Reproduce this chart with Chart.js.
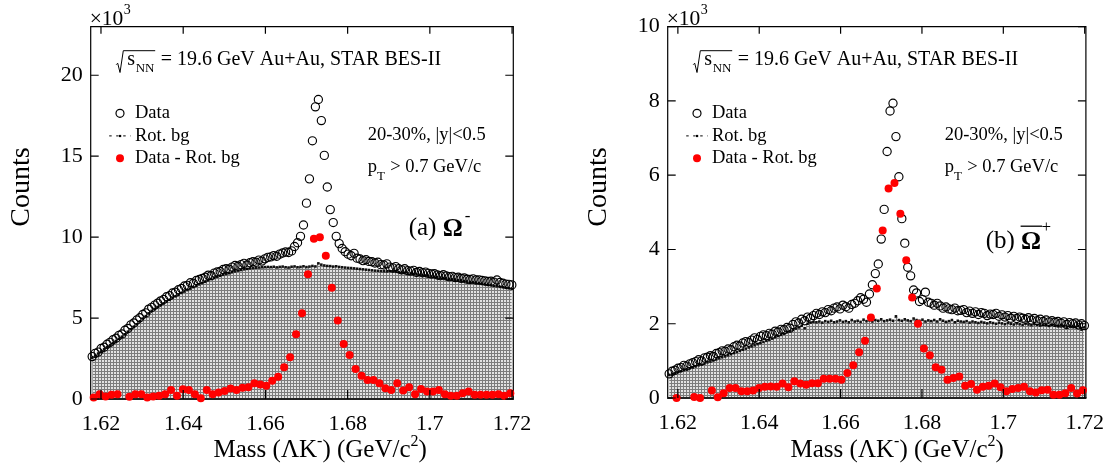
<!DOCTYPE html>
<html><head><meta charset="utf-8">
<script src="https://cdn.jsdelivr.net/npm/chart.js@4.4.1/dist/chart.umd.min.js"></script>
<style>
html,body{margin:0;padding:0;background:#fff;}
#wrap{position:relative;width:1116px;height:470px;overflow:hidden;}
canvas{position:absolute;top:0;}
</style></head><body>
<div id="wrap">
<canvas id="ca" width="558" height="470" style="left:0"></canvas>
<canvas id="cb" width="558" height="470" style="left:558px"></canvas>
</div>
<script>
// ---- axis ranges and ticks ----
const massMin = 1.6175, massMax = 1.7203;
const fineBinCount = 142, coarseBinCount = 71;
const xTickValues = [1.62, 1.64, 1.66, 1.68, 1.70, 1.72];
const xTickLabels = ['1.62', '1.64', '1.66', '1.68', '1.7', '1.72'];
const yTicksA = [0, 5, 10, 15, 20];
const yMaxA = 23;
const yTicksB = [0, 2, 4, 6, 8, 10];
const yMaxB = 10;

// ---- panel (a) Omega- : counts x10^3 ----
const dataA = [
2.62,2.82,2.90,3.12,3.20,3.38,3.50,3.66,3.75,3.93,
4.02,4.25,4.36,4.58,4.70,4.88,5.02,5.22,5.32,5.55,
5.66,5.80,5.92,6.06,6.15,6.32,6.38,6.55,6.60,6.75,
6.83,6.98,7.02,7.18,7.15,7.32,7.38,7.45,7.52,7.65,
7.62,7.78,7.85,7.88,8.00,8.05,8.02,8.15,8.25,8.20,
8.30,8.38,8.28,8.42,8.48,8.45,8.58,8.52,8.66,8.75,
8.78,8.86,8.82,8.95,9.02,9.08,9.05,9.15,9.42,9.65,
10.05,10.75,12.10,13.60,15.95,18.05,18.50,17.20,15.05,13.10,
11.70,10.90,10.05,9.60,9.30,9.10,8.95,8.85,9.00,8.70,
8.65,8.55,8.60,8.50,8.48,8.40,8.45,8.30,8.28,8.35,
8.15,8.10,8.18,8.05,7.98,8.05,7.92,7.90,7.95,7.82,
7.88,7.80,7.84,7.76,7.72,7.74,7.66,7.62,7.68,7.60,
7.55,7.58,7.50,7.52,7.45,7.48,7.40,7.38,7.42,7.35,
7.36,7.32,7.30,7.26,7.28,7.22,7.35,7.20,7.15,7.10,
7.08,7.05];
const rotBgA = [
2.55,2.68,2.81,2.94,3.07,3.20,3.33,3.46,3.59,3.72,
3.85,4.00,4.16,4.31,4.47,4.62,4.80,4.97,5.12,5.29,
5.45,5.57,5.69,5.80,5.91,6.02,6.13,6.24,6.34,6.44,
6.55,6.64,6.73,6.82,6.91,7.00,7.08,7.16,7.24,7.33,
7.42,7.48,7.55,7.61,7.67,7.72,7.77,7.83,7.88,7.93,
7.97,8.01,8.04,8.07,8.09,8.11,8.12,8.14,8.15,8.16,
8.15,8.17,8.13,8.16,8.18,8.14,8.12,8.17,8.19,8.14,
8.16,8.20,8.15,8.18,8.22,8.19,8.38,8.30,8.25,8.22,
8.21,8.18,8.20,8.16,8.14,8.12,8.10,8.09,8.07,8.05,
8.03,8.01,7.99,7.97,7.95,7.93,7.92,7.90,7.89,7.88,
7.90,7.88,7.86,7.84,7.82,7.80,7.77,7.75,7.72,7.70,
7.67,7.65,7.63,7.60,7.57,7.55,7.52,7.50,7.47,7.44,
7.41,7.39,7.36,7.33,7.31,7.28,7.25,7.22,7.20,7.17,
7.14,7.11,7.08,7.05,7.02,6.99,6.96,6.93,6.90,6.87,
6.84,6.80];
const subA = [
0.10,0.30,0.16,0.27,0.30,null,0.14,0.30,0.30,0.10,
0.16,0.20,0.30,0.55,0.20,0.60,0.55,0.30,0.04,0.55,
0.30,0.40,0.50,0.65,0.55,0.70,0.72,0.97,0.90,0.82,
1.13,1.38,1.96,2.58,4.00,5.30,7.70,9.90,10.00,8.85,
6.87,4.85,3.40,2.72,1.86,1.44,1.18,1.18,0.97,0.66,
0.56,0.97,0.52,0.72,0.30,0.62,0.47,0.47,0.55,0.30,
0.20,0.20,0.35,0.47,0.27,0.27,0.27,0.27,0.30,0.20,
0.35];

// ---- panel (b) anti-Omega+ : counts x10^3 ----
const dataB = [
0.65,0.72,0.75,0.80,0.82,0.88,0.86,0.92,0.95,0.98,
1.03,1.00,1.08,1.10,1.14,1.12,1.20,1.22,1.27,1.26,
1.32,1.30,1.38,1.42,1.40,1.48,1.52,1.50,1.56,1.62,
1.58,1.66,1.70,1.68,1.74,1.72,1.80,1.78,1.85,1.84,
1.90,1.88,1.98,2.05,2.02,2.12,2.08,2.18,2.15,2.22,
2.28,2.25,2.32,2.30,2.38,2.35,2.42,2.45,2.40,2.50,
2.46,2.42,2.52,2.55,2.62,2.70,2.66,2.58,2.80,3.05,
3.35,3.61,4.28,5.08,6.64,7.73,7.94,7.04,5.96,4.83,
4.17,3.52,3.29,2.91,2.83,2.60,2.65,2.85,2.58,2.55,
2.50,2.55,2.48,2.42,2.45,2.40,2.38,2.42,2.35,2.36,
2.38,2.30,2.34,2.28,2.32,2.25,2.30,2.28,2.22,2.26,
2.25,2.28,2.20,2.24,2.18,2.22,2.15,2.20,2.14,2.18,
2.15,2.12,2.16,2.10,2.14,2.08,2.12,2.06,2.10,2.05,
2.08,2.04,2.06,2.02,2.05,1.98,2.03,2.00,2.02,1.97,
2.00,1.95];
const rotBgB = [
0.62,0.65,0.67,0.70,0.72,0.75,0.77,0.80,0.82,0.85,
0.88,0.90,0.93,0.96,0.98,1.01,1.04,1.07,1.10,1.12,
1.15,1.18,1.21,1.24,1.27,1.30,1.33,1.36,1.39,1.42,
1.45,1.48,1.51,1.54,1.57,1.60,1.64,1.67,1.70,1.73,
1.77,1.80,1.84,1.87,1.90,1.95,1.88,2.00,2.03,2.05,
2.04,2.06,2.03,2.07,2.05,2.08,2.04,2.06,2.09,2.05,
2.07,2.04,2.10,2.06,2.08,2.05,2.11,2.07,2.09,2.06,
2.10,2.08,2.12,2.07,2.09,2.11,2.08,2.20,2.10,2.08,
2.12,2.09,2.07,2.14,2.10,2.08,2.11,2.06,2.09,2.07,
2.10,2.06,2.12,2.08,2.05,2.07,2.10,2.04,2.08,2.06,
2.05,2.07,2.03,2.06,2.04,2.02,2.05,2.03,2.01,2.04,
2.02,2.00,2.03,2.01,1.99,2.02,2.00,1.98,2.01,1.99,
1.97,2.00,1.98,1.96,1.99,1.97,1.95,1.98,1.96,1.94,
1.97,1.95,1.93,1.96,1.94,1.92,1.95,1.93,1.91,1.94,
1.84,1.90];
const subB = [
null,0.00,null,null,0.03,0.00,null,0.20,0.02,0.13,
0.27,0.27,0.18,0.18,0.20,0.27,0.30,0.31,0.30,0.39,
0.29,0.45,0.39,0.36,0.40,0.40,0.52,0.52,0.52,0.49,
0.67,0.88,1.23,1.54,2.17,2.95,4.51,5.64,5.79,4.96,
3.71,2.71,2.00,1.33,1.15,0.83,0.76,0.49,0.54,0.58,
0.33,0.38,0.22,0.30,0.33,0.39,0.29,0.18,0.24,0.27,
0.30,0.18,0.15,0.21,0.22,0.09,0.09,0.13,0.27,0.12,
0.21];

// ---- text ----
const legendLabels = ['Data', 'Rot. bg', 'Data - Rot. bg'];
const headerText = '= 19.6 GeV Au+Au, STAR BES-II';
const centralityText = '20-30%, |y|<0.5';
const ptText = '> 0.7 GeV/c';
const yTitle = 'Counts';

const FONT = "'Liberation Serif','Times New Roman',serif";

function binPoints(values, n) {
  const w = (massMax - massMin) / n;
  return values.map((v, i) => ({ x: massMin + (i + 0.5) * w, y: v }));
}

function makePattern(ctx) {
  const t = document.createElement('canvas');
  t.width = 3; t.height = 3;
  const g = t.getContext('2d');
  g.fillStyle = '#7c7c7c'; g.fillRect(0, 0, 3, 3);
  g.fillStyle = '#e2e2e2'; g.fillRect(0, 0, 2, 2);
  return ctx.createPattern(t, 'repeat');
}

function setFont(c, size, bold) {
  c.font = (bold ? 'bold ' : '') + size + 'px ' + FONT;
}

function drawFrame(chart) {
  const a = chart.chartArea, c = chart.ctx;
  c.save();
  c.strokeStyle = '#000';
  c.lineWidth = 1.2;
  c.beginPath();
  c.moveTo(a.left, a.bottom); c.lineTo(a.left, a.top);
  c.lineTo(a.right, a.top); c.lineTo(a.right, a.bottom);
  c.stroke();
  c.lineWidth = 2;
  c.strokeStyle = '#222';
  c.beginPath(); c.moveTo(a.left - 0.6, a.bottom); c.lineTo(a.right + 0.6, a.bottom); c.stroke();
  c.restore();
}

function drawTicks(chart, p) {
  const a = chart.chartArea, c = chart.ctx;
  const xs = chart.scales.x, ys = chart.scales.y;
  c.save();
  c.strokeStyle = '#000'; c.lineWidth = 1.2;
  c.beginPath();
  xTickValues.forEach(v => {
    const x = xs.getPixelForValue(v);
    c.moveTo(x, a.bottom); c.lineTo(x, a.bottom - 9);
    c.moveTo(x, a.top); c.lineTo(x, a.top + 7);
  });
  p.yTicks.forEach(v => {
    const y = ys.getPixelForValue(v);
    c.moveTo(a.left, y); c.lineTo(a.left + 8, y);
    c.moveTo(a.right, y); c.lineTo(a.right - 8, y);
  });
  c.stroke();
  c.restore();
}

function drawTexts(chart, p) {
  const a = chart.chartArea, c = chart.ctx;
  const L = a.left, T = a.top;
  c.save();
  c.fillStyle = '#000'; c.strokeStyle = '#000';
  c.textAlign = 'left'; c.textBaseline = 'alphabetic';

  // x10^3
  setFont(c, 21.5); c.fillText('\u00d710', L - 1, 24.5);
  setFont(c, 14); c.fillText('3', L + 33, 14);

  // header with sqrt(s_NN)
  c.lineWidth = 1;
  c.beginPath();
  c.moveTo(L + 25.5, T + 38);
  c.lineTo(L + 27, T + 36.5);
  c.lineTo(L + 29.3, T + 45.8);
  c.lineTo(L + 32.6, T + 24);
  c.lineTo(L + 64.5, T + 24);
  c.stroke();
  setFont(c, 20); c.fillText('s', L + 36.5, T + 38.3);
  setFont(c, 13); c.fillText('NN', L + 45, T + 45.5);
  setFont(c, 20); c.fillText(headerText, L + 70, T + 38.3);

  // legend
  setFont(c, 18.5);
  c.lineWidth = 1.2;
  c.beginPath(); c.arc(L + 29.3, T + 86.6, 4, 0, Math.PI * 2); c.stroke();
  c.fillText(legendLabels[0], L + 44.3, T + 91.5);
  c.save();
  c.lineWidth = 1;
  c.setLineDash([2.5, 4.5]);
  c.beginPath(); c.moveTo(L + 18.5, T + 109.2); c.lineTo(L + 40, T + 109.2); c.stroke();
  c.restore();
  c.fillRect(L + 28.3, T + 108.2, 2.2, 2.2);
  c.fillText(legendLabels[1], L + 44.3, T + 114.2);
  c.fillStyle = '#ff0000';
  c.beginPath(); c.arc(L + 29.3, T + 131.6, 4, 0, Math.PI * 2); c.fill();
  c.fillStyle = '#000';
  c.fillText(legendLabels[2], L + 44.3, T + 136.3);

  // centrality and pT cut
  c.fillText(centralityText, L + 277, T + 113.3);
  c.fillText('p', L + 277, T + 145.3);
  setFont(c, 13); c.fillText('T', L + 286.3, T + 153);
  setFont(c, 18.5); c.fillText(ptText, L + 299.5, T + 145.3);

  // particle label
  setFont(c, 25);
  c.fillText(p.tag, L + 318, T + p.tagY);
  const tagW = c.measureText(p.tag + ' ').width;
  setFont(c, 25, true);
  const ox = L + 318 + tagW;
  c.fillText('\u03a9', ox, T + p.tagY + 1);
  const ow = c.measureText('\u03a9').width;
  setFont(c, 17);
  if (p.anti) {
    c.lineWidth = 1.3;
    c.beginPath(); c.moveTo(ox - 0.5, T + p.tagY - 21.5); c.lineTo(ox + ow + 1, T + p.tagY - 21.5); c.stroke();
    c.fillText('+', ox + ow + 0.5, T + p.tagY - 16);
  } else {
    c.fillText('-', ox + ow + 2, T + p.tagY - 13.5);
  }

  // y title
  c.save();
  setFont(c, 28);
  c.translate(L - 61.7, 187);
  c.rotate(-Math.PI / 2);
  c.textAlign = 'center';
  c.fillText(yTitle, 0, 0);
  c.restore();

  // x title: Mass (ΛK^-) (GeV/c^2)
  const parts = [['Mass (\u039bK', 25, 0], ['-', 16, -11], [') (GeV/c', 25, 0], ['2', 16, -11], [')', 25, 0]];
  let total = 0;
  parts.forEach(pt => { setFont(c, pt[1]); total += c.measureText(pt[0]).width; });
  let x = L + 229.5 - total / 2;
  parts.forEach(pt => { setFont(c, pt[1]); c.fillText(pt[0], x, 457 + pt[2]); x += c.measureText(pt[0]).width; });

  c.restore();
}

function makePanel(canvasId, p) {
  const canvas = document.getElementById(canvasId);
  const ctx = canvas.getContext('2d');
  const W = canvas.width, H = canvas.height;
  const pattern = makePattern(ctx);
  const deco = {
    id: 'deco_' + canvasId,
    afterDatasetDraw(chart, args) { if (args.index === 3) drawFrame(chart); },
    afterDraw(chart) { drawTicks(chart, p); drawTexts(chart, p); }
  };
  const fine = binPoints(p.bg, fineBinCount);
  new Chart(ctx, {
    type: 'scatter',
    data: {
      datasets: [
        { label: legendLabels[2], data: binPoints(p.sub, coarseBinCount), showLine: false, clip: false, order: 1,
          pointStyle: 'circle', pointRadius: 4, pointBorderWidth: 0,
          pointBackgroundColor: '#ff0000', pointBorderColor: '#ff0000' },
        { label: legendLabels[0], data: binPoints(p.data, fineBinCount), showLine: false, clip: false, order: 2,
          pointStyle: 'circle', pointRadius: 4.1, pointBorderWidth: 1.15,
          pointBackgroundColor: 'rgba(0,0,0,0)', pointBorderColor: '#000' },
        { label: legendLabels[1], data: fine, showLine: false, clip: false, order: 3,
          pointStyle: 'rect', pointRadius: 1.8, pointBorderWidth: 0,
          pointBackgroundColor: '#111', pointBorderColor: '#111' },
        { label: 'fill', type: 'line', data: fine, showLine: true, stepped: 'middle', fill: 'origin',
          backgroundColor: pattern, borderWidth: 0, borderColor: 'rgba(0,0,0,0)', pointRadius: 0, order: 4 }
      ]
    },
    options: {
      responsive: false, animation: false, devicePixelRatio: 1,
      layout: { padding: { left: 0, top: p.top, right: W - p.right, bottom: 0 } },
      plugins: { legend: { display: false }, tooltip: { enabled: false } },
      events: [],
      scales: {
        x: {
          type: 'linear', min: massMin, max: massMax,
          afterBuildTicks: s => { s.ticks = xTickValues.map(v => ({ value: v })); },
          afterFit: s => { s.height = H - p.bottom; },
          grid: { display: false, drawTicks: false }, border: { display: false },
          ticks: { callback: (v, i) => xTickLabels[i], font: { family: FONT, size: 22 }, color: '#000',
                   padding: 12, maxRotation: 0, autoSkip: false }
        },
        y: {
          type: 'linear', min: 0, max: p.ymax,
          afterBuildTicks: s => { s.ticks = p.yTicks.map(v => ({ value: v })); },
          afterFit: s => { s.width = p.left; },
          grid: { display: false, drawTicks: false }, border: { display: false },
          ticks: { callback: (v, i) => String(p.yTicks[i]), font: { family: FONT, size: 22 }, color: '#000',
                   padding: 8, autoSkip: false }
        }
      }
    },
    plugins: [deco]
  });
}

makePanel('ca', { data: dataA, bg: rotBgA, sub: subA, yTicks: yTicksA, ymax: yMaxA,
  left: 90.7, right: 513.3, top: 26.7, bottom: 399, tag: '(a)', tagY: 208, anti: false });
makePanel('cb', { data: dataB, bg: rotBgB, sub: subB, yTicks: yTicksB, ymax: yMaxB,
  left: 109.7, right: 533, top: 26.7, bottom: 398, tag: '(b)', tagY: 221, anti: true });
</script>
</body></html>
